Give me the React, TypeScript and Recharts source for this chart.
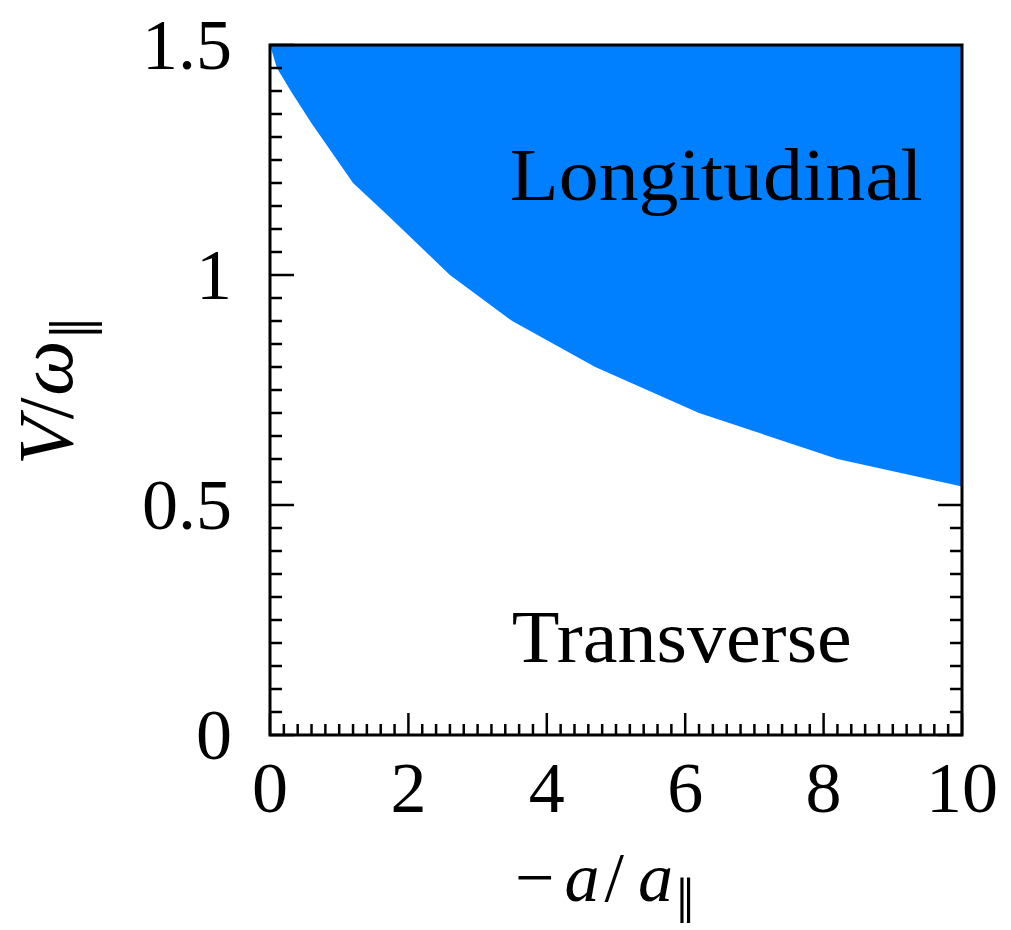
import React from 'react';
import { ComposedChart, Area, XAxis, YAxis, ReferenceArea, ReferenceDot } from 'recharts';

// boundary between the two regions
const aRatio = [0, 0.1, 0.3, 0.6, 1.2, 1.7, 2.6, 3.5, 4.7, 6.2, 8.2, 10];
const vCritical = [1.5, 1.45, 1.4, 1.33, 1.2, 1.13, 1.0, 0.9, 0.8, 0.7, 0.6, 0.54];

const xMajorTicks = [0, 2, 4, 6, 8, 10];
const yMajorTicks = [0, 0.5, 1, 1.5];
const yTickLabels = ['0', '0.5', '1', '1.5'];

const X_MAX = 10;
const Y_MAX = 1.5;

const xMinorTicks = Array.from({ length: 51 }, (_, i) => i / 5);
const yMinorTicks = Array.from({ length: 31 }, (_, i) => i / 20);

const data = aRatio.map((a, i) => ({ a, band: [vCritical[i], Y_MAX] }));

const SERIF = '"Liberation Serif", "Times New Roman", serif';
const BLUE = '#0080ff';

const majorIndex = (v: number, list: number[]) => list.findIndex(m => Math.abs(m - v) < 1e-6);

const BottomTick = (props: any) => {
  const { x, y, payload } = props;
  const major = majorIndex(payload.value, xMajorTicks) >= 0;
  return (
    <g>
      <line x1={x} x2={x} y1={y} y2={y - (major ? 22 : 11)} stroke="#000" strokeWidth={2.5} />
      {major && (
        <text x={x} y={y + 77} textAnchor="middle" fontFamily={SERIF} fontSize={72} fill="#000">
          {payload.value}
        </text>
      )}
    </g>
  );
};

const LeftTick = (props: any) => {
  const { x, y, payload } = props;
  const idx = majorIndex(payload.value, yMajorTicks);
  return (
    <g>
      <line x1={x} x2={x + (idx >= 0 ? 24 : 12)} y1={y} y2={y} stroke="#000" strokeWidth={2.5} />
      {idx >= 0 && (
        <text x={x - 38} y={y} dy="0.33em" textAnchor="end" fontFamily={SERIF} fontSize={72} fill="#000">
          {yTickLabels[idx]}
        </text>
      )}
    </g>
  );
};

// ticks on the right frame sit under the blue region, so only those below the boundary show
const RightTick = (props: any) => {
  const { x, y, payload } = props;
  if (payload.value > vCritical[vCritical.length - 1]) return <g />;
  const major = majorIndex(payload.value, yMajorTicks) >= 0;
  return <line x1={x} x2={x - (major ? 24 : 12)} y1={y} y2={y} stroke="#000" strokeWidth={2.5} />;
};

const XTitle = (props: any) => {
  const vb = props.viewBox;
  return (
    <text x={vb.x + 245} y={vb.y + 166} fontFamily={SERIF} fontSize={70} fill="#000">
      <tspan>−</tspan>
      <tspan dx={10} fontStyle="italic">a</tspan>
      <tspan dx={5}>/</tspan>
      <tspan dx={14} fontStyle="italic">a</tspan>
      <tspan dx={3} fontSize={66} dy={22}>‖</tspan>
    </text>
  );
};

const YTitle = (props: any) => {
  const vb = props.viewBox;
  const cx = 64;
  const cy = vb.y + 420;
  return (
    <text x={cx} y={cy} transform={`rotate(-90 ${cx} ${cy})`} fontFamily={SERIF} fontSize={78} fill="#000">
      <tspan fontStyle="italic">V</tspan>
      <tspan dx={-2}>/</tspan>
      <tspan dx={2} fontStyle="italic">ω</tspan>
      <tspan dx={2} fontSize={76} dy={30}>‖</tspan>
    </text>
  );
};

const regionText = (label: string, len: number) => (p: any) => (
  <text
    x={p.cx}
    y={p.cy}
    textAnchor="middle"
    fontFamily={SERIF}
    fontSize={75}
    fill="#000"
    textLength={len}
    lengthAdjust="spacingAndGlyphs"
  >
    {label}
  </text>
);

const App: React.FC = () => {
  return (
    <div style={{ width: 1003, height: 922 }}>
      <ComposedChart width={1003} height={922} data={data} margin={{ top: 37, right: 0, left: 0, bottom: 0 }}>
        <XAxis
          dataKey="a"
          type="number"
          domain={[0, X_MAX]}
          ticks={xMinorTicks}
          interval={0}
          tickSize={0}
          tickMargin={0}
          axisLine={false}
          tickLine={false}
          tick={<BottomTick />}
          height={195}
          allowDataOverflow
          label={(p: any) => <XTitle {...p} />}
        />
        <YAxis
          yAxisId="l"
          type="number"
          domain={[0, Y_MAX]}
          ticks={yMinorTicks}
          interval={0}
          tickSize={0}
          tickMargin={0}
          axisLine={false}
          tickLine={false}
          tick={<LeftTick />}
          width={262}
          allowDataOverflow
          label={(p: any) => <YTitle {...p} />}
        />
        <YAxis
          yAxisId="r"
          orientation="right"
          type="number"
          domain={[0, Y_MAX]}
          ticks={yMinorTicks}
          interval={0}
          tickSize={0}
          tickMargin={0}
          axisLine={false}
          tickLine={false}
          tick={<RightTick />}
          width={49}
          allowDataOverflow
        />
        <Area
          yAxisId="l"
          type="linear"
          dataKey="band"
          stroke="none"
          fill={BLUE}
          fillOpacity={1}
          isAnimationActive={false}
        />
        <ReferenceDot yAxisId="l" x={6.45} y={1.163} r={0} shape={regionText('Longitudinal', 413)} />
        <ReferenceDot yAxisId="l" x={5.95} y={0.159} r={0} shape={regionText('Transverse', 340)} />
        <ReferenceArea
          yAxisId="l"
          x1={0}
          x2={X_MAX}
          y1={0}
          y2={Y_MAX}
          fill="none"
          fillOpacity={0}
          stroke="#000"
          strokeWidth={3}
        />
      </ComposedChart>
    </div>
  );
};

export default App;
